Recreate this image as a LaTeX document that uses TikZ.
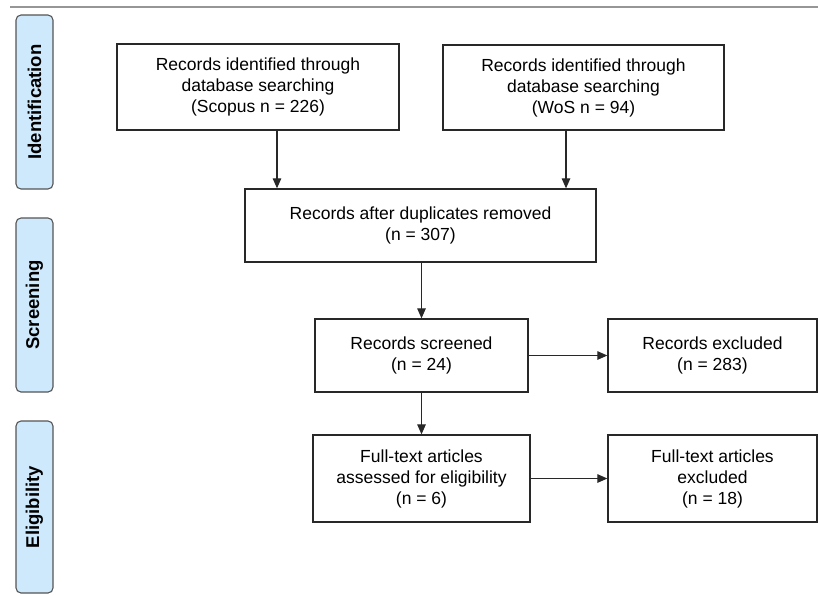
\documentclass[tikz,border=0pt]{standalone}
\usepackage{fontspec}
\setmainfont{Liberation Sans}
\usetikzlibrary{arrows.meta}
\definecolor{bandfill}{RGB}{206,233,252}
\definecolor{bandline}{RGB}{85,85,85}
\definecolor{topline}{RGB}{150,150,150}
\definecolor{boxline}{RGB}{40,40,40}
\tikzset{
  flowbox/.style={draw=boxline, line width=1.3pt, fill=white, align=center,
    inner sep=0pt, font=\fontsize{17.5}{21}\selectfont},
  band/.style={draw=bandline, line width=1.1pt, fill=bandfill, rounded corners=5pt,
    inner sep=0pt, minimum width=37pt, minimum height=174pt},
  bandtext/.style={rotate=90, font=\fontsize{18.5}{22}\selectfont\bfseries},
  arr/.style={draw=boxline, line width=1.2pt, -{Triangle[length=10pt,width=8.5pt]}}
}
\begin{document}
\begin{tikzpicture}[x=1pt,y=-1pt]
\useasboundingbox (0,0) rectangle (818,595);
\draw[topline, line width=1.2pt] (10,7) -- (818,7);

% side bands
\node[band] (bid) at (34.5,102) {};
\node[bandtext] (tid) at (bid.center) {Identification};
\node[band] (bsc) at (34.5,305) {};
\node[bandtext] (tsc) at (bsc.center) {Screening};
\node[band, minimum height=172pt] (bel) at (34.5,507) {};
\node[bandtext] (tel) at (bel.center) {Eligibility};

% boxes
\node[flowbox, minimum width=282pt, minimum height=86pt] (sco) at (258,87)
  {Records identified through\\database searching\\(Scopus n = 226)};
\node[flowbox, minimum width=281pt, minimum height=85pt] (wos) at (583.5,87.5)
  {Records identified through\\database searching\\(WoS n = 94)};
\node[flowbox, minimum width=351pt, minimum height=73pt] (dup) at (420.5,225.5)
  {Records after duplicates removed\\(n = 307)};
\node[flowbox, minimum width=213pt, minimum height=73pt] (scr) at (421.5,355.5)
  {Records screened\\(n = 24)};
\node[flowbox, minimum width=209pt, minimum height=73pt] (exc) at (712.5,355.5)
  {Records excluded\\(n = 283)};
\node[flowbox, minimum width=217pt, minimum height=87pt] (ful) at (421.5,478.5)
  {Full-text articles\\assessed for eligibility\\(n = 6)};
\node[flowbox, minimum width=209pt, minimum height=87pt] (fex) at (712.5,478.5)
  {Full-text articles\\excluded\\(n = 18)};

% arrows
\coordinate (a1) at (277,0);
\coordinate (a2) at (566,0);
\draw[arr] (sco.south -| a1) -- (dup.north -| a1);
\draw[arr] (wos.south -| a2) -- (dup.north -| a2);
\draw[arr] (dup.south -| scr.north) -- (scr.north);
\draw[arr] (scr.south) -- (ful.north);
\draw[arr] (scr.east) -- (exc.west);
\draw[arr] (ful.east) -- (fex.west);
\end{tikzpicture}
\end{document}
